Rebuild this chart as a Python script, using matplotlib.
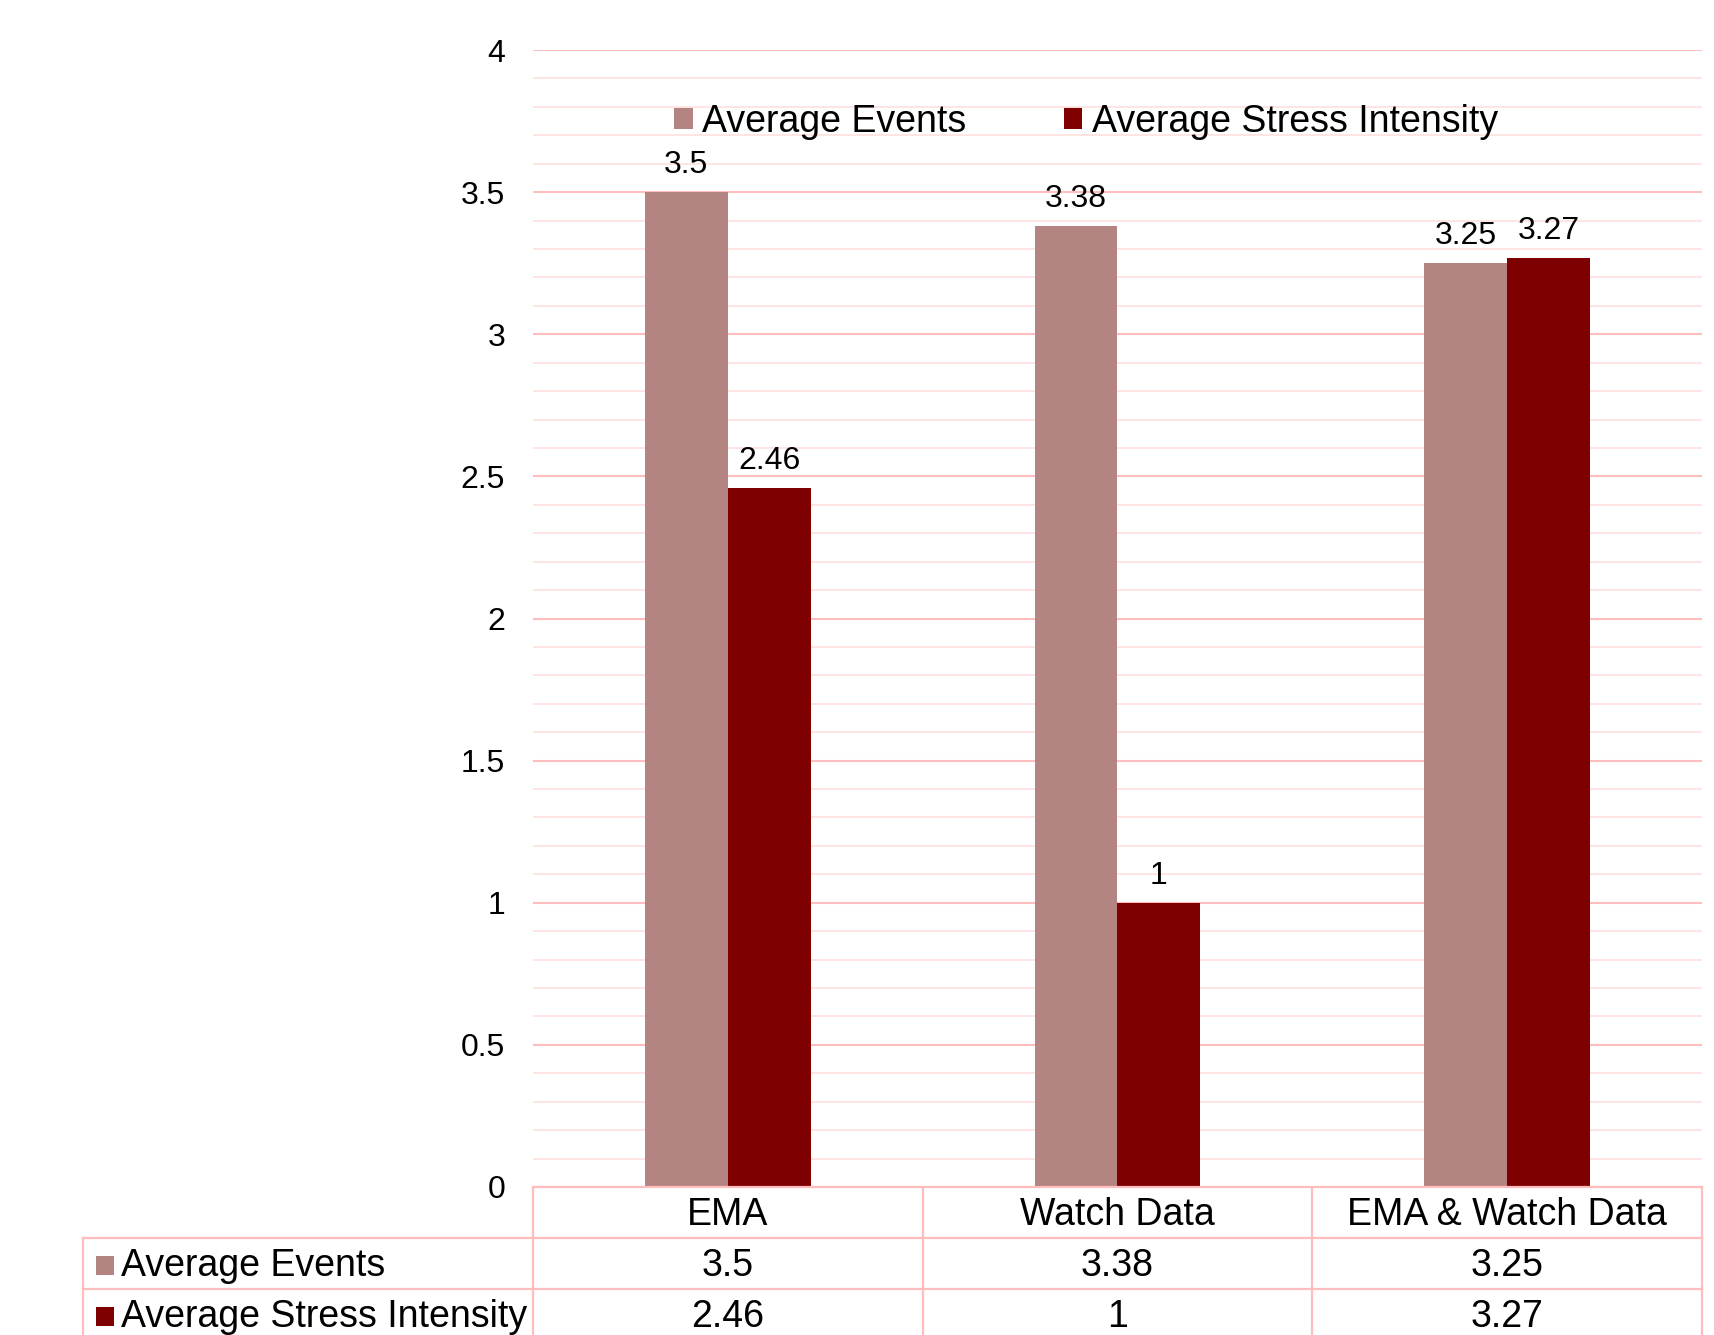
import matplotlib
matplotlib.use("Agg")
import matplotlib.pyplot as plt
from matplotlib.patches import Patch, Rectangle
from matplotlib.ticker import MultipleLocator

plt.rcParams["font.family"] = ["Liberation Sans", "DejaVu Sans"]

categories = ["EMA", "Watch Data", "EMA & Watch Data"]
series_names = ["Average Events", "Average Stress Intensity"]
avg_events = [3.5, 3.38, 3.25]
avg_stress = [2.46, 1, 3.27]
series_values = [avg_events, avg_stress]
series_colors = ["#B38482", "#7F0000"]

W, H = 1714, 1335
fig = plt.figure(figsize=(W / 100, H / 100), dpi=100)

# plot area in pixels
left, right, top, bottom = 533, 1702, 50, 1187
ax = fig.add_axes([left / W, 1 - bottom / H, (right - left) / W, (bottom - top) / H])

bw = 0.213
for k, (vals, col) in enumerate(zip(series_values, series_colors)):
    xs = [i + (k - 0.5) * bw for i in range(len(categories))]
    ax.bar(xs, vals, width=bw, color=col, zorder=3, label=series_names[k])
    for x, v in zip(xs, vals):
        ax.annotate(f"{v:g}", (x, v), xytext=(0, 13.5), textcoords="offset points",
                    ha="center", va="baseline", fontsize=23, color="black")

ax.set_xlim(-0.5, 2.5)
ax.set_ylim(0, 4)
ax.yaxis.set_major_locator(MultipleLocator(0.5))
ax.yaxis.set_minor_locator(MultipleLocator(0.1))
ax.yaxis.set_major_formatter(matplotlib.ticker.FuncFormatter(lambda v, p: f"{v:g}"))
ax.grid(which="major", axis="y", color="#FFBDBD", linewidth=1.5, zorder=0)
ax.grid(which="minor", axis="y", color="#FFE2E2", linewidth=1.3, zorder=0)
ax.set_xticks([])
ax.tick_params(axis="y", which="both", length=0, pad=20, labelsize=23)
for s in ax.spines.values():
    s.set_visible(False)

handles = [Patch(facecolor=c, edgecolor="none") for c in series_colors]
ax.legend(handles, series_names, loc="center", bbox_to_anchor=(0.473, 0.937), ncol=2,
          frameon=False, fontsize=27, handlelength=0.5, handleheight=0.5,
          handletextpad=0.25, columnspacing=2.6)

# data table under the plot
tleft = 83
row_h = 51
tax = fig.add_axes([tleft / W, 0, (right - tleft) / W, (H - bottom) / H])
unit = (right - left) / 3
tax.set_xlim(-0.5 - (left - tleft) / unit, 2.5)
tax.set_ylim((H - bottom) / row_h, 0)
tax.axis("off")
x0 = -0.5 - (left - tleft) / unit
line_kw = dict(color="#FFBDBD", linewidth=1.6, clip_on=False)

tax.plot([-0.5, 2.5], [0, 0], **line_kw)
for y in (1, 2):
    tax.plot([x0, 2.5], [y, y], **line_kw)
for x in (-0.5, 0.5, 1.5, 2.5):
    tax.plot([x, x], [0, 3], **line_kw)
tax.plot([x0, x0], [1, 3], **line_kw)

ty = 0.04  # slight downward nudge of the cell text
for i, cat in enumerate(categories):
    tax.text(i, 0.5 + ty, cat, ha="center", va="center", fontsize=27)
for r, (name, vals, col) in enumerate(zip(series_names, series_values, series_colors)):
    y = r + 1.5
    sq = 18 / unit
    tax.add_patch(Rectangle((x0 + 13 / unit, y - 0.18 + ty), sq, 0.36, facecolor=col,
                            edgecolor="none", clip_on=False))
    tax.text(x0 + 38 / unit, y + ty, name, ha="left", va="center", fontsize=27)
    for i, v in enumerate(vals):
        tax.text(i, y + ty, f"{v:g}", ha="center", va="center", fontsize=27)

fig.savefig("out.png", dpi=100)
